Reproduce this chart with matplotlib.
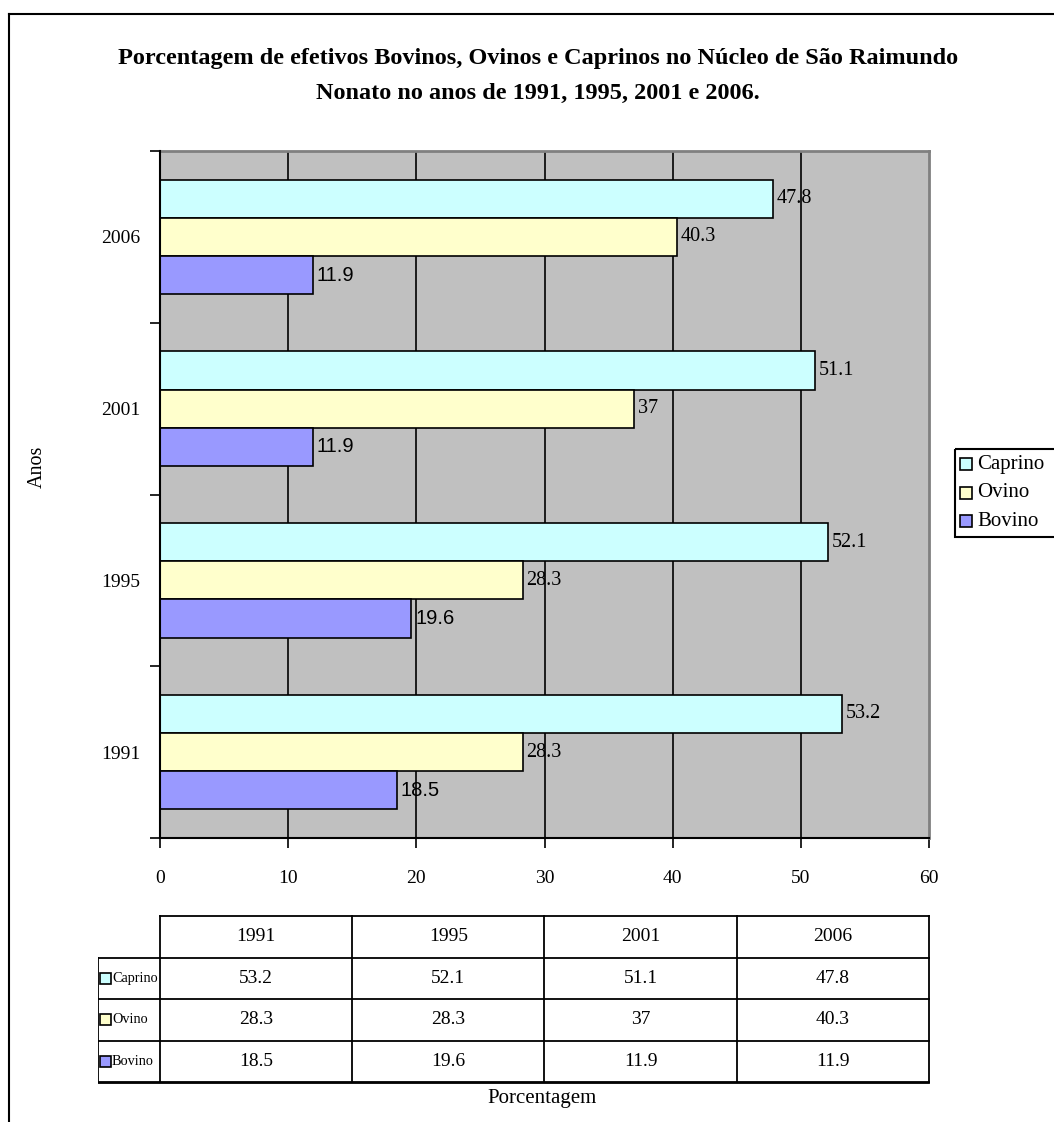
import matplotlib
matplotlib.use("Agg")
import matplotlib.pyplot as plt
from matplotlib.patches import Rectangle
from matplotlib.lines import Line2D
import numpy as np

years = ["1991", "1995", "2001", "2006"]
series = ["Caprino", "Ovino", "Bovino"]
caprino = [53.2, 52.1, 51.1, 47.8]
ovino = [28.3, 28.3, 37, 40.3]
bovino = [18.5, 19.6, 11.9, 11.9]
colors = ["#CCFFFF", "#FFFFCC", "#9999FF"]
xticks = [0, 10, 20, 30, 40, 50, 60]

title = ("Porcentagem de efetivos Bovinos, Ovinos e Caprinos no Núcleo de São Raimundo\n"
         "Nonato no anos de 1991, 1995, 2001 e 2006.")

SERIF = ["Liberation Serif", "DejaVu Serif"]
SANS = ["Liberation Sans", "DejaVu Sans"]

W, H = 1054, 1122
fig = plt.figure(figsize=(W / 100, H / 100), dpi=100)

def fx(px):
    return px / W

def fy(py):
    return 1 - py / H

# outer border (left and top visible)
fig.add_artist(Line2D([fx(9), fx(9)], [fy(14), fy(1122)], color="black", lw=1.5))
fig.add_artist(Line2D([fx(9), fx(1054)], [fy(14), fy(14)], color="black", lw=1.5))

L, R, T, B = 160, 929, 151, 838
ax = fig.add_axes([fx(L), fy(B), fx(R) - fx(L), fy(T) - fy(B)])
ax.set_facecolor("#C0C0C0")
ax.set_xlim(0, 60)
ax.set_ylim(-0.5, len(years) - 0.5)

data = [caprino, ovino, bovino]
bh = 0.222
offsets = [bh, 0, -bh]
y = np.arange(len(years))
for vals, off, col, name in zip(data, offsets, colors, series):
    ax.barh(y + off, vals, height=bh, color=col, edgecolor="black",
            linewidth=1.2, label=name, zorder=3)
    fam = SANS if name == "Bovino" else SERIF
    for yy, v in zip(y + off, vals):
        ax.text(v + 0.3, yy, f"{v:g}", va="center", ha="left",
                fontsize=14.5, family=fam, zorder=5)

for xv in xticks[1:-1]:
    ax.axvline(xv, color="black", lw=1.2, zorder=1)

ax.set_xticks(xticks)
ax.set_xticklabels([str(t) for t in xticks], family=SERIF, fontsize=14)
ax.set_yticks(np.arange(len(years) + 1) - 0.5, minor=False)
ax.set_yticklabels([])
ax.set_yticks(y, minor=True)
ax.set_yticklabels(years, minor=True, family=SERIF, fontsize=14)
ax.tick_params(axis="y", which="minor", length=0, pad=14)
ax.tick_params(axis="y", which="major", length=7, width=1.2, direction="out")
ax.tick_params(axis="x", length=7, width=1.2, direction="out", pad=16)
for s in ["top", "right"]:
    ax.spines[s].set_color("#808080")
    ax.spines[s].set_linewidth(2)
for s in ["left", "bottom"]:
    ax.spines[s].set_color("black")
    ax.spines[s].set_linewidth(1.5)
    ax.spines[s].set_zorder(6)

fig.text(fx(538), fy(76), title, ha="center", va="center", family=SERIF,
         fontsize=17.5, fontweight="bold", linespacing=1.9)
fig.text(fx(37), fy(467), "Anos", rotation=90, ha="center", va="center",
         family=SERIF, fontsize=14.5)
fig.text(fx(542), fy(1098), "Porcentagem", ha="center", va="center",
         family=SERIF, fontsize=15)

# legend
lax = fig.add_axes([fx(955), fy(537), fx(1054) - fx(955), fy(448) - fy(537)])
lax.set_xlim(955, 1054)
lax.set_ylim(537, 448)
lax.axis("off")
lax.add_patch(Rectangle((955.5, 448.5), 120, 88, fill=False, edgecolor="black",
                        lw=1.5, clip_on=False))
for i, (name, col) in enumerate(zip(series, colors)):
    yc = 464 + i * 28.5
    lax.add_patch(Rectangle((960, yc - 6), 12, 12, facecolor=col,
                            edgecolor="black", lw=1.2))
    lax.text(977, yc, name, va="center", ha="left", family=SERIF, fontsize=15)

# data table
TL, TR, TT, TB = 98, 929, 916, 1082
tax = fig.add_axes([fx(TL), fy(TB + 2), fx(TR + 2) - fx(TL), fy(TT - 2) - fy(TB + 2)])
tax.set_xlim(TL, TR + 2)
tax.set_ylim(TB + 2, TT - 2)
tax.axis("off")
ncol = len(years)
col_edges = np.linspace(L, R, ncol + 1)
nrow = len(series) + 1
row_edges = np.linspace(TT, TB, nrow + 1)
lw = 1.3
tax.plot([L, R], [TT, TT], color="black", lw=lw)
for xe in col_edges:
    tax.plot([xe, xe], [TT, TB], color="black", lw=lw)
for re in row_edges[1:]:
    tax.plot([TL, R], [re, re], color="black", lw=lw)
tax.plot([TL, R], [TB + 1, TB + 1], color="black", lw=lw)
tax.plot([TL, TL], [row_edges[1], TB], color="black", lw=lw)
for j, yr in enumerate(years):
    tax.text((col_edges[j] + col_edges[j + 1]) / 2, (row_edges[0] + row_edges[1]) / 2,
             yr, ha="center", va="center", family=SERIF, fontsize=14)
for i, (name, col, vals) in enumerate(zip(series, colors, data)):
    yc = (row_edges[i + 1] + row_edges[i + 2]) / 2
    tax.add_patch(Rectangle((100, yc - 5.5), 11, 11, facecolor=col,
                            edgecolor="black", lw=1.2))
    tax.text(112, yc, name, ha="left", va="center", family=SERIF, fontsize=10.3)
    for j, v in enumerate(vals):
        tax.text((col_edges[j] + col_edges[j + 1]) / 2, yc, f"{v:g}",
                 ha="center", va="center", family=SERIF, fontsize=14)

fig.savefig("out.png", dpi=100)
